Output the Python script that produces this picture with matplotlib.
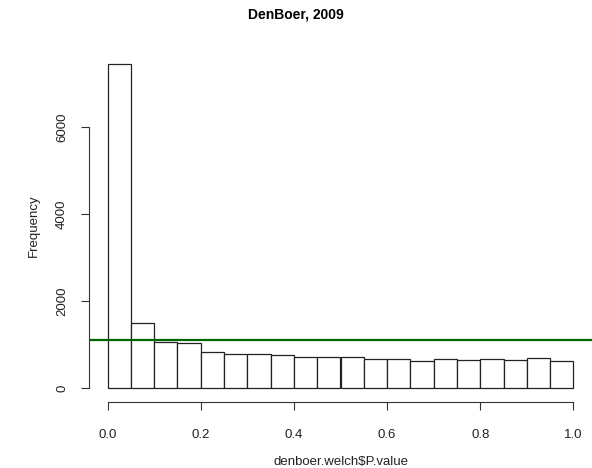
import matplotlib.pyplot as plt

plt.rcParams['font.family'] = ['Liberation Sans', 'DejaVu Sans']

# histogram of p-values, 20 bins of width 0.05
bin_edges = [0.00, 0.05, 0.10, 0.15, 0.20, 0.25, 0.30, 0.35, 0.40, 0.45, 0.50,
             0.55, 0.60, 0.65, 0.70, 0.75, 0.80, 0.85, 0.90, 0.95, 1.00]
counts = [7450, 1490, 1065, 1035, 835, 785, 780, 760, 705, 705,
          705, 670, 670, 615, 660, 645, 675, 645, 690, 615]
uniform_level = 1110

x_ticks = [0.0, 0.2, 0.4, 0.6, 0.8, 1.0]
x_ticklabels = ['0.0', '0.2', '0.4', '0.6', '0.8', '1.0']
y_ticks = [0, 2000, 4000, 6000]

fig = plt.figure(figsize=(5.92, 4.68), dpi=100)
ax = fig.add_axes([89 / 592, 67 / 468, 503 / 592, 350 / 468])

lefts = bin_edges[:-1]
widths = [b - a for a, b in zip(bin_edges[:-1], bin_edges[1:])]
ax.bar(lefts, counts, width=widths, align='edge', color='white',
       edgecolor='#222222', linewidth=0.9)
ax.axhline(uniform_level, color='#006400', linewidth=1.6)

top = max(counts)
ax.set_xlim(-0.04, 1.04)
ax.set_ylim(-0.04 * top, 1.04 * top)

for side in ['top', 'right']:
    ax.spines[side].set_visible(False)
ax.spines['left'].set_bounds(0, 6000)
ax.spines['bottom'].set_bounds(0, 1)
ax.spines['bottom'].set_position(('outward', 1))
for side in ['left', 'bottom']:
    ax.spines[side].set_linewidth(0.8)
    ax.spines[side].set_color('#333333')

ax.set_xticks(x_ticks)
ax.set_xticklabels(x_ticklabels)
ax.set_yticks(y_ticks)
ax.set_yticklabels([str(v) for v in y_ticks], rotation=90, va='center')
ax.tick_params(axis='both', direction='out', length=6, width=0.8,
               color='#333333', labelsize=9.5, labelcolor='#222222')
ax.tick_params(axis='x', pad=13)
ax.tick_params(axis='y', pad=9)

ax.set_xlabel('denboer.welch$P.value', fontsize=9.5, color='#222222', labelpad=11)
ax.set_ylabel('Frequency', fontsize=9.5, color='#222222', labelpad=12)
fig.suptitle('DenBoer, 2009', fontsize=10, fontweight='bold', y=0.983)

fig.savefig('out.png', dpi=100)
